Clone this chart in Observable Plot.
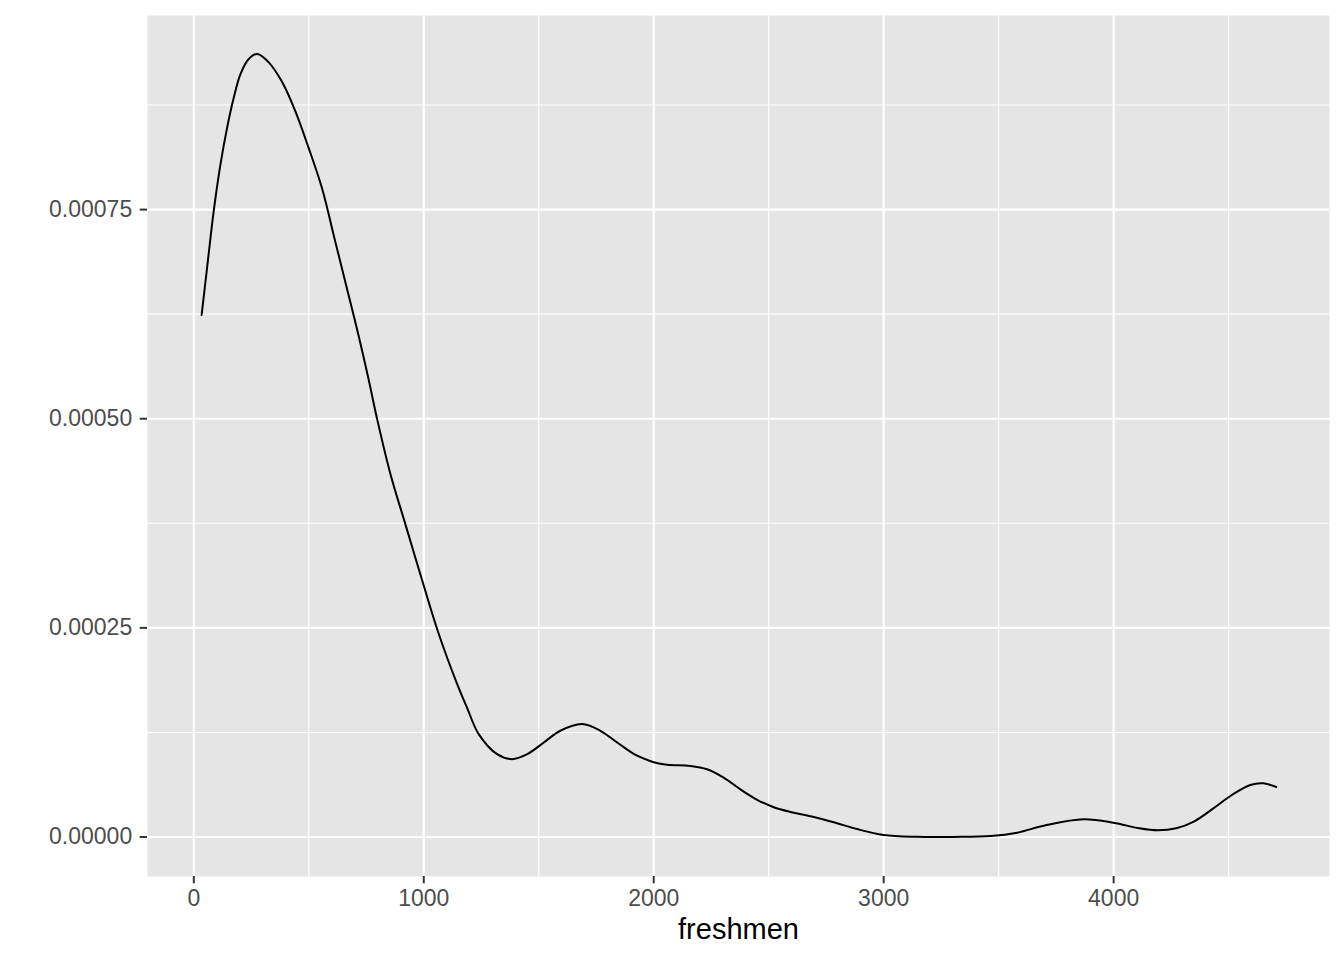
<!DOCTYPE html>
<html>
<head>
<meta charset="utf-8">
<script src="https://cdn.jsdelivr.net/npm/d3@7"></script>
<script src="https://cdn.jsdelivr.net/npm/@observablehq/plot@0.6"></script>
<style>
  html, body { margin: 0; padding: 0; background: #ffffff; }
  #chart svg { display: block; }
</style>
</head>
<body>
<div id="chart"></div>
<script>
// Estimated density curve of "freshmen"
const freshmen = [34, 58, 87, 116, 145, 174, 203, 239, 276, 326, 383, 441, 499, 557, 615, 673, 716, 761, 797, 855,
  920, 993, 1065, 1145, 1189, 1239, 1319, 1384, 1450, 1522, 1594, 1689, 1768, 1841, 1913, 1960, 2000, 2058, 2160, 2232,
  2304, 2377, 2450, 2522, 2594, 2696, 2783, 2884, 3000, 3145, 3306, 3467, 3580, 3709, 3870, 3999, 4111, 4192, 4272, 4353,
  4434, 4514, 4594, 4651, 4707];
const density = [0.000624, 0.000681, 0.000749, 0.000804, 0.000848, 0.000884, 0.000912, 0.000930, 0.000936, 0.000926,
  0.000903, 0.000868, 0.000824, 0.000776, 0.000712, 0.000648, 0.000600, 0.000546, 0.000500, 0.000434,
  0.000374, 0.000307, 0.000243, 0.000183, 0.000154, 0.000123, 0.0000990, 0.0000930, 0.0000990, 0.000113,
  0.000127, 0.000135, 0.000127, 0.000113, 0.0000995, 0.0000935, 0.0000894, 0.0000863, 0.0000850, 0.0000810,
  0.0000710, 0.0000570, 0.0000445, 0.0000356, 0.0000300, 0.0000240, 0.0000177, 0.0000095, 0.0000024, 0.0000002,
  0.0000001, 0.0000012, 0.0000052, 0.0000144, 0.0000211, 0.0000171, 0.0000104, 0.0000080, 0.0000104, 0.0000191,
  0.0000343, 0.0000502, 0.0000622, 0.0000642, 0.0000598];

const xMajor = [0, 1000, 2000, 3000, 4000];
const xMinor = [500, 1500, 2500, 3500, 4500];
const yMajor = [0, 0.00025, 0.0005, 0.00075];
const yMinor = [0.000125, 0.000375, 0.000625, 0.000875];
const yTickLabels = ["0.00000", "0.00025", "0.00050", "0.00075"];
const xTitle = "freshmen";

const data = freshmen.map((x, i) => ({x, y: density[i]}));

const chart = Plot.plot({
  width: 1344,
  height: 960,
  marginLeft: 147,
  marginRight: 15,
  marginTop: 15,
  marginBottom: 84,
  style: {fontFamily: "'Liberation Sans', Arial, Helvetica, sans-serif", fontSize: "23px", background: "#ffffff", color: "#4d4d4d"},
  x: {domain: [-201.3, 4938.7], label: null},
  y: {domain: [-0.0000472, 0.000982], label: null},
  marks: [
    Plot.frame({fill: "#E5E5E5", stroke: "none"}),
    Plot.ruleX(xMinor, {stroke: "#ffffff", strokeWidth: 1.1}),
    Plot.ruleY(yMinor, {stroke: "#ffffff", strokeWidth: 1.1}),
    Plot.ruleX(xMajor, {stroke: "#ffffff", strokeWidth: 2.1}),
    Plot.ruleY(yMajor, {stroke: "#ffffff", strokeWidth: 2.1}),
    Plot.line(data, {x: "x", y: "y", curve: "catmull-rom", stroke: "#000000", strokeWidth: 2}),
    Plot.axisX({ticks: xMajor, tickFormat: d => String(d), tickSize: 7.3, tickPadding: 6, stroke: "#333333", strokeWidth: 2, fill: "#4d4d4d", label: null}),
    Plot.axisY({ticks: yMajor, tickFormat: d => yTickLabels[yMajor.indexOf(d)], tickSize: 7.3, tickPadding: 8, stroke: "#333333", strokeWidth: 2, fill: "#4d4d4d", label: null}),
    Plot.text([xTitle], {frameAnchor: "bottom", dy: 53, text: d => d, fontSize: 29, fill: "#000000", textAnchor: "middle", lineAnchor: "middle"})
  ]
});
document.getElementById("chart").appendChild(chart);
</script>
</body>
</html>
